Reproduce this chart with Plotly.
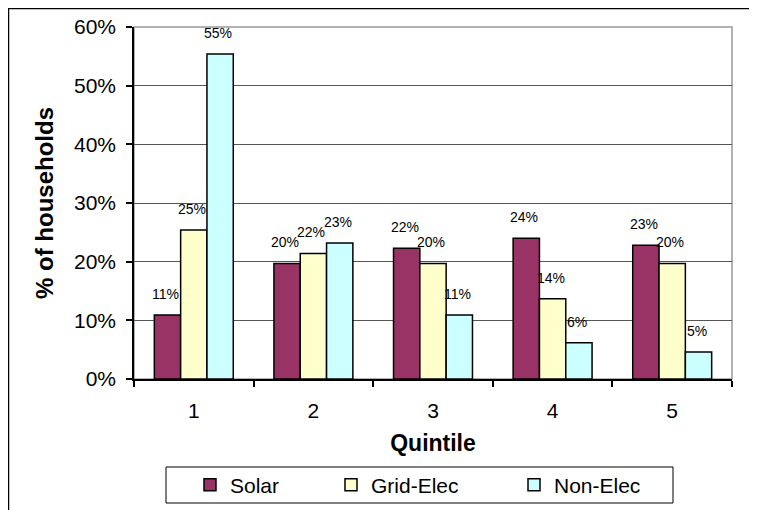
import plotly.graph_objects as go

quintiles = ["1", "2", "3", "4", "5"]
solar = [0.109, 0.197, 0.223, 0.240, 0.228]
grid_elec = [0.254, 0.214, 0.197, 0.137, 0.197]
non_elec = [0.554, 0.232, 0.109, 0.062, 0.046]
labels_solar = ["11%", "20%", "22%", "24%", "23%"]
labels_grid = ["25%", "22%", "20%", "14%", "20%"]
labels_non = ["55%", "23%", "11%", "6%", "5%"]

# the page body has an 8px margin; the figure starts at (8, 8) in the window
OX, OY = 8, 8
W, H = 757 - OX, 510 - OY
L, R, T, B = 134, 732, 27, 379   # plot area in window pixels
PW, PH = R - L, B - T


def px(x):
    return (x - L) / PW


def py(y):
    return (B - y) / PH


FONT = "Liberation Sans, Arial, sans-serif"

series = [
    ("Solar", solar, labels_solar, "#993366", 96),
    ("Grid-Elec", grid_elec, labels_grid, "#FFFFCC", 138),
    ("Non-Elec", non_elec, labels_non, "#CCFFFF", 100),
]

fig = go.Figure()
for name, vals, _, color, lw in series:
    fig.add_trace(go.Bar(
        x=quintiles, y=vals, name=name,
        marker=dict(color=color, line=dict(color="black", width=1.5)),
        legendwidth=lw,
    ))

bar_w = PW / 5 * 0.66 / 3
annotations = []
for i, (name, vals, labs, _, _) in enumerate(series):
    off = (i - 1) * bar_w - 2
    for qi, (v, t) in enumerate(zip(vals, labs)):
        annotations.append(dict(
            x=qi, y=v, xref="x", yref="y", text=t, showarrow=False,
            xshift=off, yshift=21, yanchor="middle",
            font=dict(family=FONT, size=14, color="black"),
        ))

shapes = [
    # plot area border
    dict(type="rect", xref="paper", yref="paper", x0=0, x1=1, y0=0, y1=1,
         line=dict(color="#999999", width=1.5), layer="below"),
    # outer chart border
    dict(type="rect", xref="paper", yref="paper", x0=px(8.5), x1=px(775), y0=py(530), y1=py(8.5),
         line=dict(color="black", width=1.5)),
    # legend box
    dict(type="rect", xref="paper", yref="paper", x0=px(166), x1=px(673), y0=py(503), y1=py(467),
         line=dict(color="black", width=1)),
]

fig.update_layout(
    width=W, height=H,
    margin=dict(l=L - OX, r=757 - R, t=T - OY, b=(OY + H) - B, autoexpand=False),
    paper_bgcolor="white", plot_bgcolor="white",
    barmode="group", bargap=0.34, bargroupgap=0,
    font=dict(family=FONT, color="black"),
    showlegend=True,
    legend=dict(orientation="h", x=px(190), xanchor="left", y=py(485), yanchor="middle",
                borderwidth=0, bgcolor="rgba(0,0,0,0)", font=dict(family=FONT, size=21),
                itemclick=False),
    annotations=annotations,
    shapes=shapes,
)
fig.update_xaxes(
    type="category", showline=True, linecolor="black", linewidth=1.5,
    ticks="outside", tickson="boundaries", ticklen=6, tickcolor="black", tickwidth=1.5,
    tickfont=dict(family=FONT, size=21), ticklabelstandoff=12, showgrid=False,
    automargin=False,
    title=dict(text="<b>Quintile</b>", font=dict(family=FONT, size=23), standoff=14),
)
fig.update_yaxes(
    range=[0, 0.6], dtick=0.1, tickformat=".0%",
    showline=True, linecolor="black", linewidth=1.5,
    ticks="outside", ticklen=6, tickcolor="black", tickwidth=1.5,
    tickfont=dict(family=FONT, size=21), ticklabelstandoff=6,
    showgrid=True, gridcolor="#555555", gridwidth=1, zeroline=False,
    automargin=False,
    title=dict(text="<b>% of households</b>", font=dict(family=FONT, size=24), standoff=14),
)

fig.write_html("out.html")
